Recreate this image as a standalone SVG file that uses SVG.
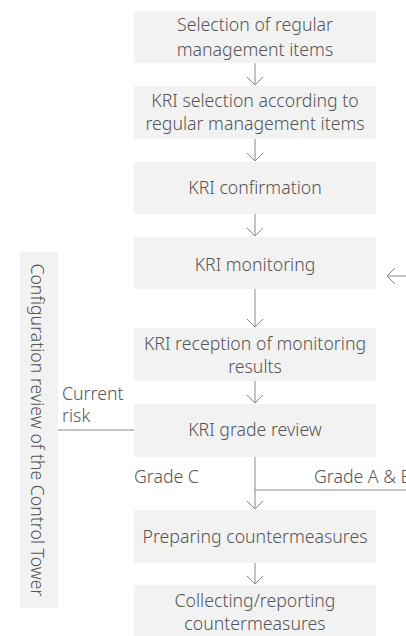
<svg xmlns="http://www.w3.org/2000/svg" width="406" height="636" viewBox="0 0 406 636">
<style>
.box{fill:#f2f2f2;}
.t{font-family:"Noto Sans","Open Sans","Liberation Sans",sans-serif;font-size:17.7px;font-weight:300;fill:#555;}
.c{text-anchor:middle;}
.ln{stroke:#888;stroke-width:1;fill:none;}
</style>
<defs>
<marker id="ah" markerUnits="userSpaceOnUse" markerWidth="20" markerHeight="20" refX="10" refY="10" orient="auto" viewBox="0 0 20 20">
<path d="M2,2 L10,10 L2,18" fill="none" stroke="#888" stroke-width="1"/>
</marker>
</defs>
<rect width="406" height="636" fill="#fff"/>
<g id="connectors">
<line class="ln" x1="255" y1="63" x2="255" y2="85" marker-end="url(#ah)"/>
<line class="ln" x1="255" y1="139" x2="255" y2="161" marker-end="url(#ah)"/>
<line class="ln" x1="255" y1="214" x2="255" y2="236" marker-end="url(#ah)"/>
<line class="ln" x1="255" y1="289" x2="255" y2="327" marker-end="url(#ah)"/>
<line class="ln" x1="255" y1="381" x2="255" y2="403" marker-end="url(#ah)"/>
<line class="ln" x1="255" y1="457" x2="255" y2="509" marker-end="url(#ah)"/>
<line class="ln" x1="255" y1="490" x2="406" y2="490"/>
<line class="ln" x1="255" y1="563" x2="255" y2="584" marker-end="url(#ah)"/>
<line class="ln" x1="406" y1="276" x2="387" y2="276" marker-end="url(#ah)"/>
<line class="ln" x1="58" y1="430" x2="134" y2="430"/>
<text class="t" x="62" y="400">Current</text>
<text class="t" x="62" y="422">risk</text>
<text class="t" x="134" y="483">Grade C</text>
<text class="t" x="314" y="483">Grade A &amp; B</text>
</g>
<g id="n1"><rect class="box" x="134" y="11" width="242" height="52"/>
<text class="t c" x="255" y="31">Selection of regular</text>
<text class="t c" x="255" y="56">management items</text></g>
<g id="n2"><rect class="box" x="134" y="86" width="242" height="53"/>
<text class="t c" x="255" y="107">KRI selection according to</text>
<text class="t c" x="255" y="130">regular management items</text></g>
<g id="n3"><rect class="box" x="134" y="162" width="242" height="52"/>
<text class="t c" x="255" y="194">KRI confirmation</text></g>
<g id="n4"><rect class="box" x="134" y="237" width="242" height="52"/>
<text class="t c" x="255" y="271">KRI monitoring</text></g>
<g id="n5"><rect class="box" x="134" y="328" width="242" height="53"/>
<text class="t c" x="255" y="350">KRI reception of monitoring</text>
<text class="t c" x="255" y="373">results</text></g>
<g id="n6"><rect class="box" x="134" y="404" width="242" height="53"/>
<text class="t c" x="255" y="436">KRI grade review</text></g>
<g id="n7"><rect class="box" x="134" y="510" width="242" height="53"/>
<text class="t c" x="255" y="543">Preparing countermeasures</text></g>
<g id="n8"><rect class="box" x="134" y="585" width="242" height="51"/>
<text class="t c" x="255" y="607">Collecting/reporting</text>
<text class="t c" x="255" y="630">countermeasures</text></g>
<g id="side"><rect class="box" x="20" y="252" width="38" height="356"/>
<text class="t c" transform="translate(31,430) rotate(90)">Configuration review of the Control Tower</text></g>
</svg>
